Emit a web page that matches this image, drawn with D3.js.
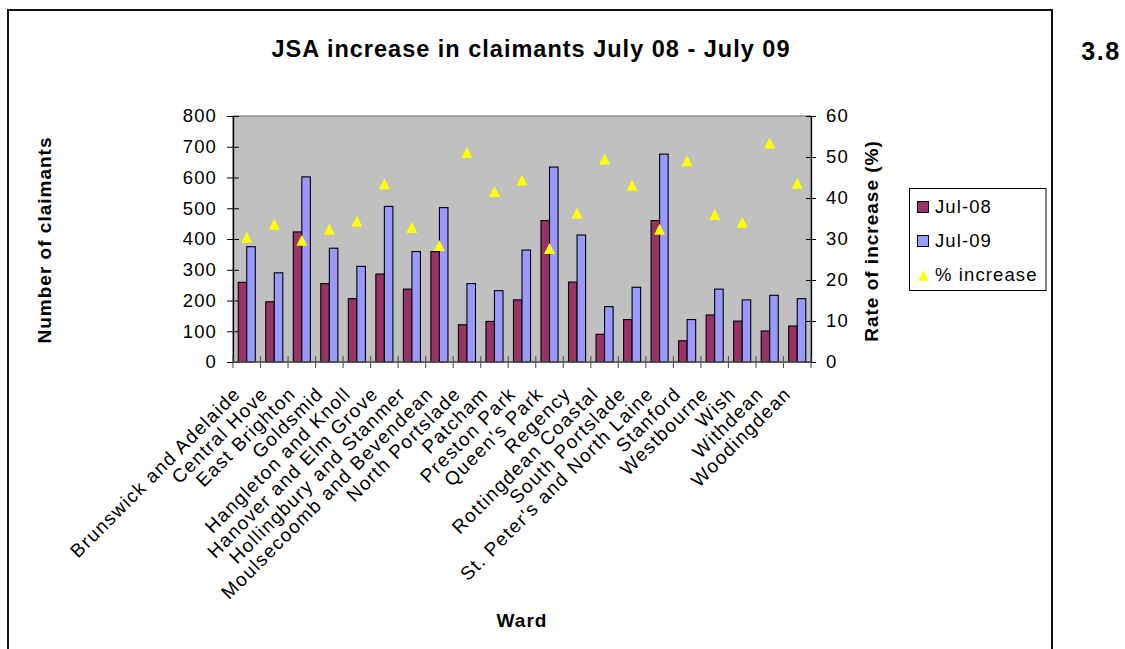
<!DOCTYPE html>
<html><head><meta charset="utf-8">
<script src="https://cdn.jsdelivr.net/npm/d3@7"></script>
<style>
body{margin:0;background:#fff;}
text{font-family:"Liberation Sans",Arial,sans-serif;}
</style></head>
<body>
<svg id="chart" width="1125" height="649"></svg>
<script>
const wards = ["Brunswick and Adelaide","Central Hove","East Brighton","Goldsmid","Hangleton and Knoll","Hanover and Elm Grove","Hollingbury and Stanmer","Moulsecoomb and Bevendean","North Portslade","Patcham","Preston Park","Queen's Park","Regency","Rottingdean Coastal","South Portslade","St. Peter's and North Laine","Stanford","Westbourne","Wish","Withdean","Woodingdean"];
const jul08 = [259,196,423,255,206,286,237,359,121,132,202,460,260,90,138,460,69,153,133,101,117];
const jul09 = [375,290,602,370,311,506,359,502,255,232,364,634,413,180,243,676,138,237,202,217,206];
const pctIncrease = [30.4,33.6,29.7,32.4,34.3,43.5,32.8,28.4,51.1,41.6,44.4,27.7,36.3,49.5,43.1,32.4,49.1,36.0,34.1,53.4,43.6];
const leftTicks = [0,100,200,300,400,500,600,700,800];
const rightTicks = [0,10,20,30,40,50,60];
const seriesNames = ["Jul-08","Jul-09","% increase"];

const svg = d3.select("#chart");
const P = {l:233, r:811, t:116, b:362};
const fs = "18.5px", ls = "1.1px";

// outer border
svg.append("rect").attr("x",8).attr("y",10).attr("width",1044).attr("height",700)
  .attr("fill","none").attr("stroke","#111").attr("stroke-width",2);

svg.append("text").attr("x",531).attr("y",57).attr("text-anchor","middle")
  .attr("font-weight","bold").attr("font-size","23.5px").attr("letter-spacing","1px")
  .text("JSA increase in claimants July 08 - July 09");
svg.append("text").attr("x",1101).attr("y",60).attr("text-anchor","middle")
  .attr("font-weight","bold").attr("font-size","25px").attr("letter-spacing","1.5px")
  .text("3.8");

const x = d3.scaleBand().domain(wards).range([P.l,P.r]).padding(0);
const y = d3.scaleLinear().domain([0,800]).range([P.b,P.t]);
const y2 = d3.scaleLinear().domain([0,60]).range([P.b,P.t]);
const bw = x.bandwidth()*0.31;

svg.append("rect").attr("x",P.l).attr("y",P.t).attr("width",P.r-P.l).attr("height",P.b-P.t)
  .attr("fill","#C0C0C0").attr("stroke","#808080").attr("stroke-width",1.3);

// bars
const g = svg.append("g");
g.selectAll(".b1").data(wards).join("rect")
  .attr("x",d=>x(d)+x.bandwidth()/2-bw).attr("y",(d,i)=>y(jul08[i]))
  .attr("width",bw).attr("height",(d,i)=>P.b-y(jul08[i]))
  .attr("fill","#993366").attr("stroke","#000").attr("stroke-width",1.1);
g.selectAll(".b2").data(wards).join("rect")
  .attr("x",d=>x(d)+x.bandwidth()/2).attr("y",(d,i)=>y(jul09[i]))
  .attr("width",bw).attr("height",(d,i)=>P.b-y(jul09[i]))
  .attr("fill","#9999FF").attr("stroke","#000").attr("stroke-width",1.1);

// triangle symbol
const tri = {draw(ctx,size){const h=Math.sqrt(size)/2;ctx.moveTo(0,-h);ctx.lineTo(h,h);ctx.lineTo(-h,h);ctx.closePath();}};
const sym = d3.symbol().type(tri).size(121);
g.selectAll(".t").data(wards).join("path")
  .attr("d",sym).attr("fill","#FFFF00")
  .attr("transform",(d,i)=>`translate(${x(d)+x.bandwidth()/2},${y2(pctIncrease[i])})`);

// left axis
const la = svg.append("g").attr("transform",`translate(${P.l},0)`)
  .call(d3.axisLeft(y).tickValues(leftTicks).tickSize(6).tickPadding(10).tickSizeOuter(0));
la.select(".domain").attr("stroke","#000").attr("stroke-width",1.3);
la.selectAll(".tick line").attr("x1",6).attr("stroke","#000");
la.selectAll("text").attr("font-size",fs).attr("letter-spacing",ls).attr("fill","#000");

const ra = svg.append("g").attr("transform",`translate(${P.r},0)`)
  .call(d3.axisRight(y2).tickValues(rightTicks).tickSize(5).tickPadding(10).tickSizeOuter(0));
ra.select(".domain").attr("stroke","#000").attr("stroke-width",1.3);
ra.selectAll(".tick line").attr("x1",-5).attr("stroke","#000");
ra.selectAll("text").attr("font-size",fs).attr("letter-spacing",ls).attr("fill","#000");

// bottom axis
const bounds = d3.range(wards.length+1).map(i=>P.l+i*x.step());
svg.append("line").attr("x1",P.l).attr("x2",P.r).attr("y1",P.b).attr("y2",P.b)
  .attr("stroke","#555").attr("stroke-width",1.3);
svg.selectAll(".bt").data(bounds).join("line")
  .attr("x1",d=>d).attr("x2",d=>d).attr("y1",P.b-6).attr("y2",P.b+6)
  .attr("stroke","#555").attr("stroke-width",1.1);

svg.append("g").selectAll("text").data(wards).join("text")
  .attr("text-anchor","end").attr("font-size","19px").attr("letter-spacing","1.35px")
  .attr("transform",d=>`translate(${x(d)+x.bandwidth()/2-5},${P.b+33}) rotate(-45)`)
  .text(d=>d);

// axis titles
svg.append("text").attr("transform",`translate(51,240) rotate(-90)`).attr("text-anchor","middle")
  .attr("font-weight","bold").attr("font-size","19px").attr("letter-spacing","1px")
  .text("Number of claimants");
svg.append("text").attr("transform",`translate(878,241) rotate(-90)`).attr("text-anchor","middle")
  .attr("font-weight","bold").attr("font-size","19px").attr("letter-spacing","1px")
  .text("Rate of increase (%)");
svg.append("text").attr("x",522).attr("y",627).attr("text-anchor","middle")
  .attr("font-weight","bold").attr("font-size","19px").attr("letter-spacing","1px")
  .text("Ward");

// legend
const lg = svg.append("g");
lg.append("rect").attr("x",909.5).attr("y",188.5).attr("width",136.5).attr("height",102)
  .attr("fill","#fff").attr("stroke","#000").attr("stroke-width",1);
const colors = ["#993366","#9999FF"];
const ly = [212.5,246.5,281];
seriesNames.forEach((s,i)=>{
  if(i<2){
    lg.append("rect").attr("x",917.5).attr("y",ly[i]-11).attr("width",11).attr("height",11)
      .attr("fill",colors[i]).attr("stroke","#000").attr("stroke-width",1);
  } else {
    lg.append("path").attr("d",d3.symbol().type(tri).size(110)())
      .attr("fill","#FFFF00").attr("transform",`translate(923.5,${ly[i]-5.5})`);
  }
  lg.append("text").attr("x",935).attr("y",ly[i]).attr("font-size",fs).attr("letter-spacing",ls).text(s);
});
</script>
</body></html>
